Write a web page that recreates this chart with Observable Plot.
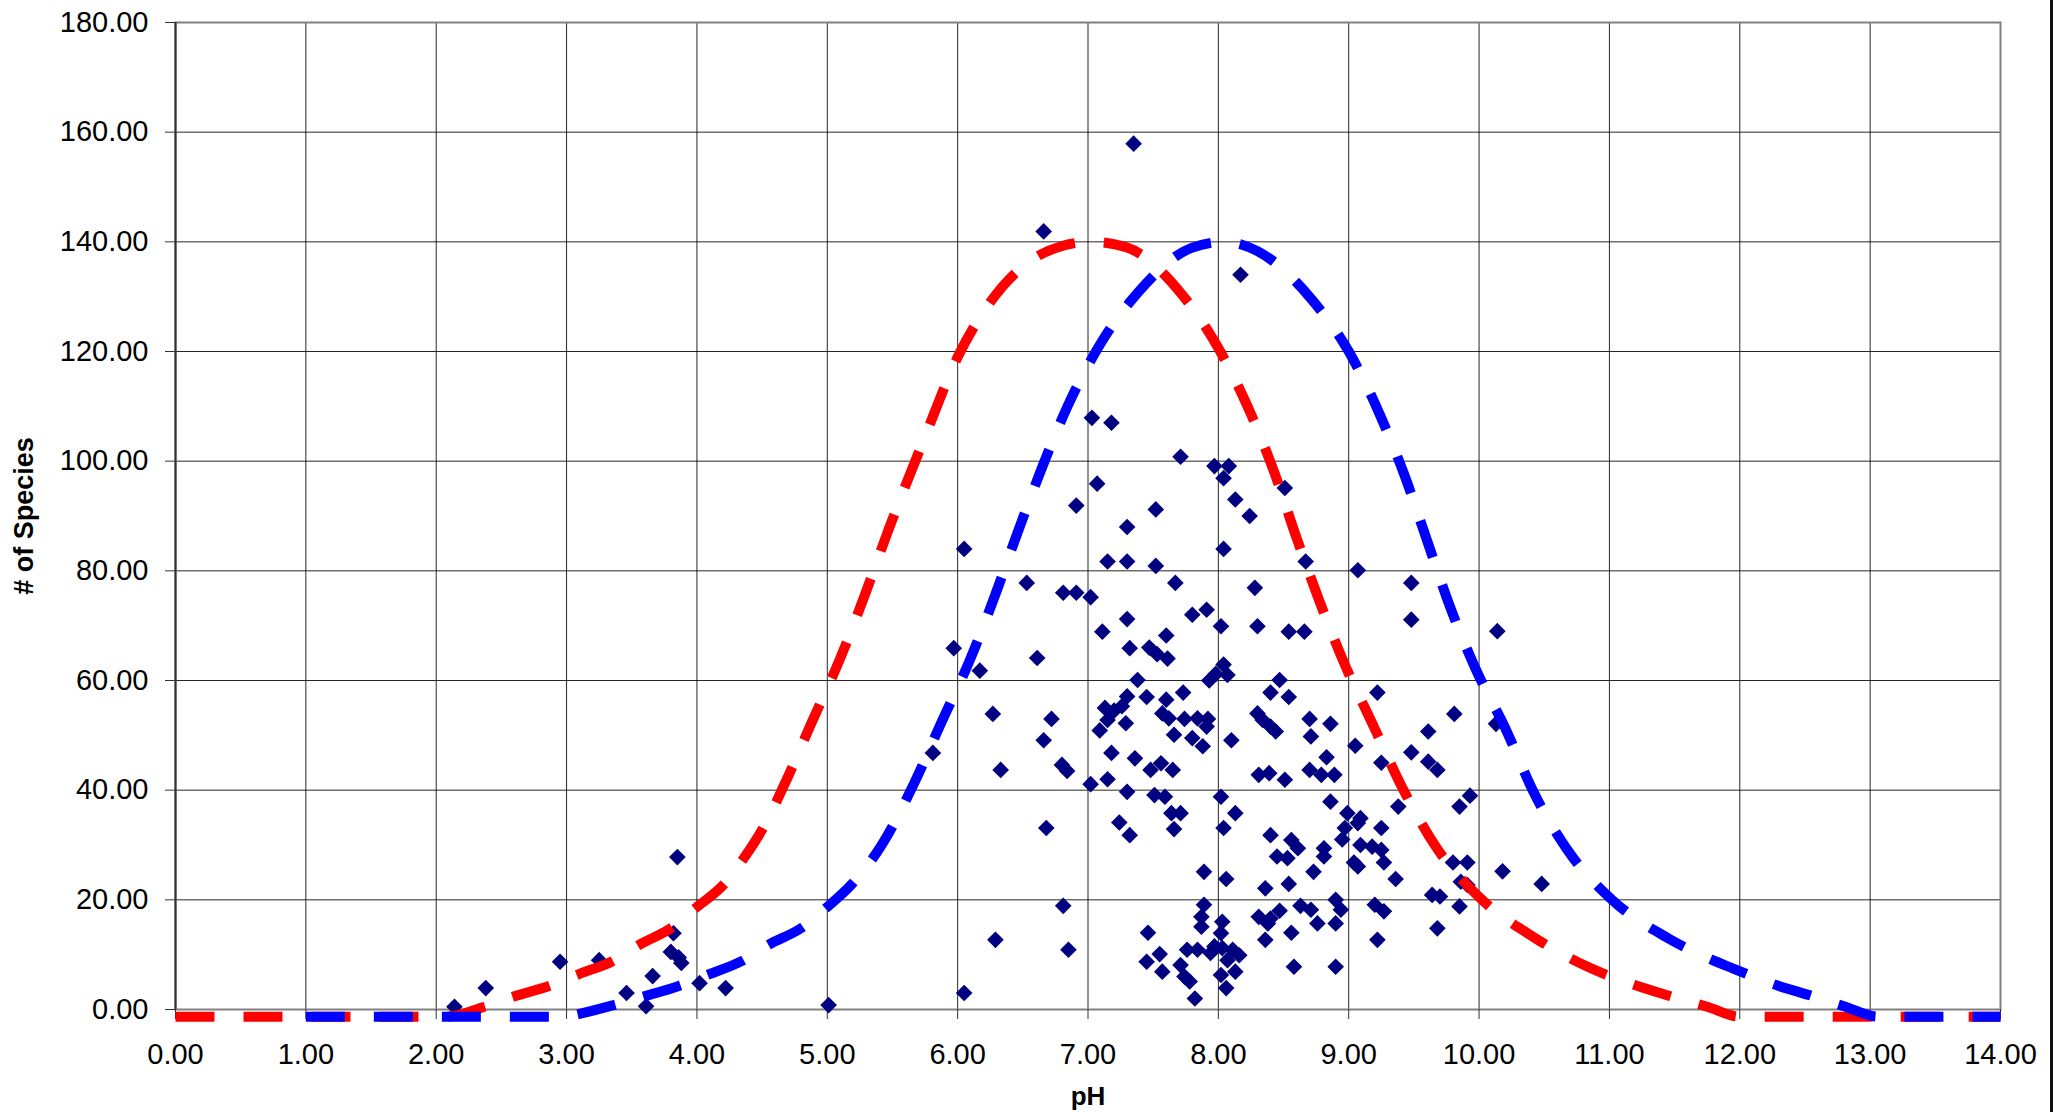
<!DOCTYPE html>
<html>
<head>
<meta charset="utf-8">
<script src="https://cdn.jsdelivr.net/npm/d3@7"></script>
<script src="https://cdn.jsdelivr.net/npm/@observablehq/plot@0.6"></script>
<style>
html, body { margin: 0; padding: 0; background: #fff; overflow: hidden; }
#chart { position: relative; width: 2062px; height: 1112px; }
#edge { position: absolute; left: 2050px; top: 0; width: 3px; height: 1112px; background: #111; }
</style>
</head>
<body>
<div id="chart"><div id="edge"></div></div>
<script>
// Axis ticks
const xTicks = [0, 1, 2, 3, 4, 5, 6, 7, 8, 9, 10, 11, 12, 13, 14];
const yTicks = [0, 20, 40, 60, 80, 100, 120, 140, 160, 180];

// Observed samples: pH and number of species
const phValues = [
  2.14, 2.38, 2.95, 3.25, 3.46, 3.61, 3.66, 3.85, 3.82, 3.80, 3.86, 3.88, 4.02, 4.22, 5.01,
  5.81, 5.97, 6.05, 6.05, 6.17, 6.27, 6.29, 6.33, 6.53, 6.61,
  6.66, 6.66, 6.68, 6.72, 6.80, 6.84, 6.81, 6.85, 6.81, 6.91, 7.02, 6.91,
  7.35, 8.17, 7.03, 7.18, 7.71, 7.97, 8.08, 8.04, 7.07, 8.51, 7.52, 8.13, 8.24,
  7.30, 7.15, 7.30, 7.52, 8.04, 8.67, 7.67, 8.28, 7.30, 7.80, 7.91, 7.11, 7.60, 8.02, 8.30, 8.54, 8.66,
  7.32, 7.47, 7.53, 7.61, 7.93, 7.98, 8.04, 8.07, 7.38, 7.73, 7.45, 8.47, 8.40, 8.54,
  7.30, 7.26, 7.13, 7.15, 7.29, 7.09, 7.20, 7.60, 7.57, 7.62, 7.74, 7.84, 7.92, 7.91, 7.66, 7.80, 7.88,
  8.10, 8.30, 8.34, 8.40, 8.44, 8.70, 8.86, 8.71,
  7.18, 7.36, 7.48, 7.56, 7.65, 7.02, 7.15, 7.30, 7.51, 7.59, 7.64, 7.71, 7.66, 7.24, 7.32,
  8.02, 8.13, 8.04, 8.39, 8.31, 8.51, 8.70, 8.79, 8.89, 8.83, 8.86,
  7.89, 8.06, 8.40, 8.56, 8.61, 8.45, 8.53, 8.81, 8.81, 8.73, 8.36, 8.54,
  7.89, 7.87, 7.87, 8.03, 8.02, 7.46, 7.76, 7.84, 7.97, 7.55, 7.45, 7.57, 7.71, 7.74, 7.78, 7.82,
  7.94, 8.03, 8.11, 8.16, 8.07, 8.13, 8.02, 8.06,
  8.31, 8.38, 8.40, 8.36, 8.47, 8.56, 8.63, 8.71, 8.76, 8.90, 8.90, 8.94, 8.58, 8.90,
  9.07, 9.48, 9.48, 10.14, 9.22, 9.81, 10.13, 9.05, 9.25, 9.61, 9.48, 9.61, 9.68, 9.93, 9.85, 9.38,
  8.99, 9.09, 8.97, 9.25, 8.95, 9.07, 9.09, 9.18, 9.25, 9.04, 9.07, 9.27, 9.36, 9.80, 9.91, 10.18,
  9.86, 9.91, 10.48, 9.20, 9.27, 9.22, 9.64, 9.70, 9.85, 9.68
];
const speciesCounts = [
  0.5, 3.9, 8.7, 9.0, 3.0, 0.6, 6.1, 27.8, 13.9, 10.5, 9.5, 8.5, 4.8, 3.9, 0.8,
  46.8, 65.9, 84.0, 3.0, 61.8, 53.9, 12.7, 43.7, 77.8, 64.1,
  141.9, 49.1, 33.1, 53.0, 44.6, 43.5, 18.9, 10.9, 76.0, 76.0, 75.2, 91.9,
  157.9, 134.0, 107.9, 107.0, 100.8, 99.1, 99.1, 96.9, 95.9, 95.1, 91.2, 93.0, 90.0,
  88.0, 81.7, 81.7, 80.9, 84.0, 81.7, 77.8, 76.9, 71.2, 72.0, 72.9, 68.9, 68.2, 69.9, 69.9, 68.9, 68.9,
  65.9, 66.0, 64.8, 64.0, 60.0, 61.2, 62.9, 61.0, 60.1, 57.8, 57.0, 60.1, 57.8, 57.0,
  57.1, 55.3, 55.0, 52.8, 52.2, 50.9, 54.5, 56.5, 54.0, 53.1, 53.0, 53.1, 53.0, 51.6, 50.1, 49.5, 48.0,
  49.1, 54.0, 52.8, 51.6, 50.7, 53.0, 52.1, 49.8,
  46.8, 45.8, 43.7, 44.9, 43.7, 41.1, 42.0, 39.7, 39.1, 38.8, 35.8, 35.8, 32.9, 34.1, 31.8,
  38.8, 35.8, 33.1, 43.1, 42.8, 41.9, 43.7, 42.8, 42.8, 46.0, 37.9,
  25.1, 23.8, 31.8, 30.9, 29.4, 27.9, 27.6, 29.4, 27.9, 25.1, 22.1, 22.9,
  19.1, 16.9, 15.1, 16.0, 13.9, 14.0, 10.9, 10.9, 11.5, 10.1, 8.7, 6.9, 8.1, 6.0, 5.1, 2.0,
  10.3, 11.2, 10.9, 9.9, 9.0, 6.9, 6.3, 3.9,
  16.9, 15.7, 16.6, 12.7, 18.0, 14.0, 18.9, 18.2, 15.7, 20.0, 15.7, 18.2, 7.8, 7.8,
  80.1, 77.8, 71.1, 69.0, 57.8, 53.9, 52.1, 48.1, 45.0, 50.7, 46.9, 45.2, 43.7, 39.0, 37.0, 37.0,
  35.8, 34.9, 33.1, 33.1, 31.0, 34.0, 30.0, 29.7, 29.1, 26.8, 26.1, 26.8, 23.8, 26.8, 26.8, 25.2,
  23.3, 22.7, 22.9, 19.1, 17.9, 12.7, 20.9, 20.6, 18.8, 14.8
];

// Red dashed curve (optimum near pH 7)
const redPH = [0, 1, 2, 2.08, 2.37, 2.6, 2.88, 3.1, 3.36, 3.55, 3.81, 4.0, 4.21, 4.36, 4.51, 4.68, 4.885, 5.095, 5.285, 5.465, 5.75, 6.0, 6.25, 6.5, 6.795, 7.03, 7.295, 7.7, 8.005, 8.235, 8.43, 8.6, 8.775, 8.97, 9.19, 9.41, 9.665, 10.005, 10.425, 10.85, 11.24, 11.5, 11.75, 12.0, 13, 14];
const redCount = [-1.3, -1.3, -1.3, -1.3, 0.5, 2.4, 4.4, 6.5, 8.9, 11.7, 15.0, 18.7, 22.9, 27.6, 33.2, 41.5, 52.6, 63.8, 75.4, 87.2, 104.5, 119.0, 129.0, 135.5, 139.2, 140.0, 139.0, 131.0, 120.4, 109.4, 97.9, 86.0, 74.5, 62.9, 51.7, 40.5, 29.8, 20.4, 13.1, 7.6, 4.1, 2.2, 0.5, -1.3, -1.3, -1.3];

// Blue dashed curve (optimum near pH 8)
const bluePH = [1, 2, 3, 3.08, 3.36, 3.58, 3.86, 4.08, 4.35, 4.54, 4.81, 4.99, 5.19, 5.42, 5.665, 5.88, 6.095, 6.285, 6.46, 6.65, 6.845, 7.085, 7.385, 7.795, 8.05, 8.3, 8.705, 9.005, 9.235, 9.43, 9.6, 9.77, 9.97, 10.205, 10.415, 10.675, 11.02, 11.45, 11.945, 12.3, 12.55, 12.8, 13.06, 14];
const blueCount = [-1.3, -1.3, -1.3, -0.9, 0.8, 2.3, 4.3, 6.3, 8.9, 11.7, 15.0, 18.5, 22.9, 30.1, 41.2, 52.6, 63.8, 75.4, 87.0, 99.0, 110.1, 121.0, 130.8, 138.9, 140.0, 138.3, 129.8, 119.8, 108.7, 97.3, 85.6, 73.9, 62.3, 51.1, 39.8, 29.2, 20.0, 13.0, 7.5, 4.3, 2.5, 0.6, -1.3, -1.3];

const fmt = d => d.toFixed(2);
const fontFamily = "'Liberation Sans', Arial, Helvetica, sans-serif";

const chart = Plot.plot({
  width: 2062,
  height: 1112,
  marginLeft: 175,
  marginRight: 62,
  marginTop: 22,
  marginBottom: 103,
  style: {fontFamily, fontSize: "29px", color: "#000", background: "transparent", overflow: "visible"},
  x: {domain: [xTicks[0], xTicks[xTicks.length - 1]]},
  y: {domain: [yTicks[0], yTicks[yTicks.length - 1]]},
  marks: [
    Plot.gridX(xTicks, {stroke: "#000", strokeOpacity: 0.85, strokeWidth: 1}),
    Plot.gridY(yTicks, {stroke: "#000", strokeOpacity: 0.85, strokeWidth: 1}),
    Plot.frame({stroke: "#808080", strokeWidth: 2}),
    Plot.ruleX(xTicks.slice(0, 1), {stroke: "#333", strokeWidth: 2}),
    Plot.axisX(xTicks, {tickFormat: fmt, tickSize: 10, tickPadding: 24, label: null, stroke: "#333", fontSize: 29}),
    Plot.axisY(yTicks, {tickFormat: fmt, tickSize: 10, tickPadding: 17, label: null, stroke: "#333", fontSize: 29}),
    Plot.axisX({ticks: [], tickSize: 0, label: "pH", labelAnchor: "center", labelArrow: "none", labelOffset: 95, fontWeight: "bold", fontSize: 26}),
    Plot.axisY({ticks: [], tickSize: 0, label: "# of Species", labelAnchor: "center", labelArrow: "none", labelOffset: 162, fontWeight: "bold", fontSize: 27}),
    Plot.dot(speciesCounts, {x: phValues, y: speciesCounts, symbol: "diamond2", r: 7.5, fill: "#000080", stroke: null}),
    Plot.line(redCount, {x: redPH, y: redCount, stroke: "#ff0000", strokeWidth: 10, strokeDasharray: "39,29", strokeLinecap: "butt", strokeLinejoin: "miter", curve: "monotone-x"}),
    Plot.line(blueCount, {x: bluePH, y: blueCount, stroke: "#0000ff", strokeWidth: 10, strokeDasharray: "39,29", strokeLinecap: "butt", strokeLinejoin: "miter", curve: "monotone-x"})
  ]
});
chart.style.position = "absolute";
chart.style.left = "0px";
chart.style.top = "0px";
document.getElementById("chart").appendChild(chart);
</script>
</body>
</html>
